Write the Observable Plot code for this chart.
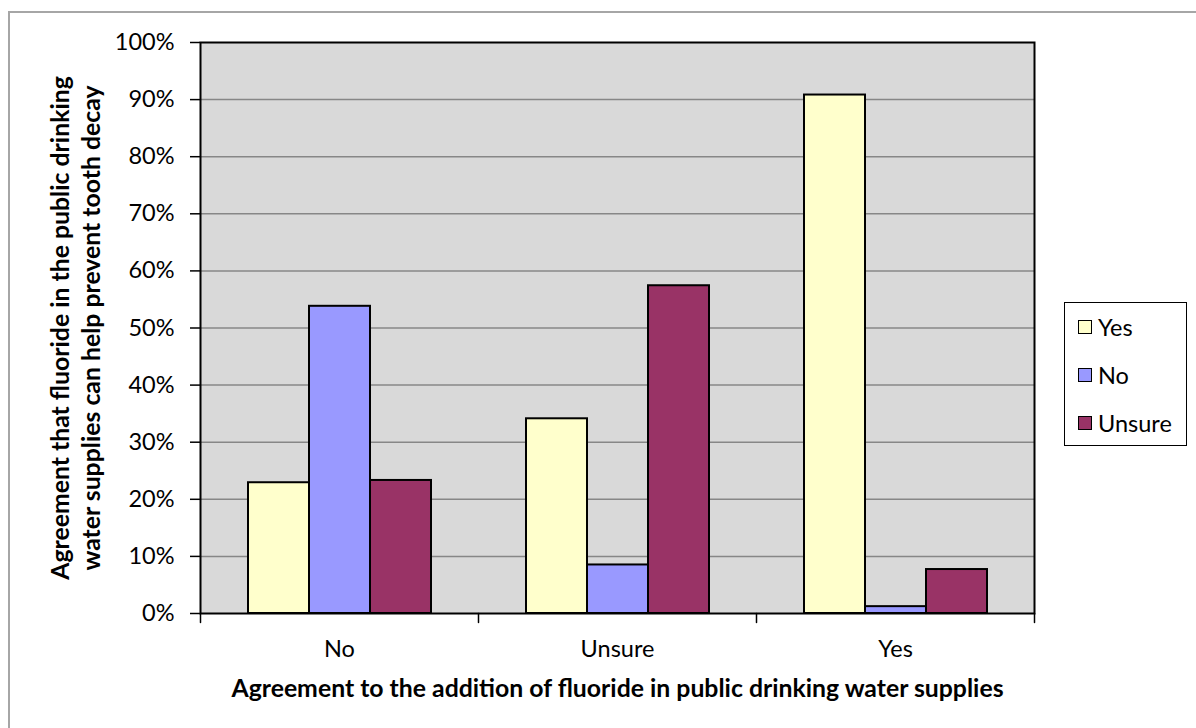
<!DOCTYPE html>
<html>
<head>
<meta charset="utf-8">
<script src="https://cdn.jsdelivr.net/npm/d3@7"></script>
<script src="https://cdn.jsdelivr.net/npm/@observablehq/plot@0.6"></script>
<style>
  html, body { margin: 0; padding: 0; background: #fff; overflow: hidden; }
  #wrap { position: relative; width: 1196px; height: 728px; overflow: hidden; font-family: Lato, sans-serif; }
  #border { position: absolute; left: 8px; top: 11px; width: 1400px; height: 900px; border: 2px solid #a6a6a6; }
  #chart { position: absolute; left: 0; top: 0; }
  #legend { position: absolute; left: 1064px; top: 302px; width: 123px; height: 144px; box-sizing: border-box;
            border: 1.5px solid #000; background: #fff; }
  .item { position: absolute; left: 13px; height: 28px; display: flex; align-items: center; font-size: 23.5px; color: #000; }
  .swatch { width: 12px; height: 12px; border: 1.5px solid #000; margin-right: 6px; }
</style>
</head>
<body>
<div id="wrap">
  <div id="border"></div>
  <div id="chart"></div>
  <div id="legend"></div>
</div>
<script>
// Answer to "does fluoride in drinking water help prevent tooth decay?",
// split by the respondent's view on adding fluoride to public supplies.
const groups = ["No", "Unsure", "Yes"];
const series = ["Yes", "No", "Unsure"];
const colors = ["#FFFFCC", "#9999FF", "#993366"];
const valuesYes = [0.229, 0.341, 0.908];
const valuesNo = [0.538, 0.085, 0.012];
const valuesUnsure = [0.233, 0.574, 0.077];
const yTicks = [0, 0.1, 0.2, 0.3, 0.4, 0.5, 0.6, 0.7, 0.8, 0.9, 1];
const xTitle = "Agreement to the addition of fluoride in public drinking water supplies";
const yTitle = "Agreement that fluoride in the public drinking\nwater supplies can help prevent tooth decay";

const seriesValues = [valuesYes, valuesNo, valuesUnsure];
const rows = groups.flatMap((g, gi) =>
  series.map((s, si) => ({group: g, series: s, value: seriesValues[si][gi]}))
);

// short downward stroke used for the category boundary ticks
const tickShape = {
  draw(context, l) { context.moveTo(0, 0); context.lineTo(0, -l); }
};

const chart = Plot.plot({
  width: 1196,
  height: 728,
  marginLeft: 200,
  marginRight: 162,
  marginTop: 42,
  marginBottom: 115,
  style: {fontFamily: "Lato, sans-serif", fontSize: "23.5px", color: "#000", background: "transparent", overflow: "visible"},
  fx: {domain: groups, padding: 0},
  x: {domain: series, paddingInner: 0, paddingOuter: 0.75, axis: null},
  y: {domain: [0, 1]},
  color: {domain: series, range: colors},
  marks: [
    Plot.frame({facet: "super", fill: "#d9d9d9"}),
    Plot.gridY(yTicks.slice(1, -1), {stroke: "#878787", strokeOpacity: 1, strokeWidth: 1.5}),
    Plot.barY(rows, {fx: "group", x: "series", y: "value", fill: "series", stroke: "#000", strokeWidth: 2}),
    Plot.frame({facet: "super", stroke: "#000", strokeWidth: 2}),
    Plot.axisY({ticks: yTicks, tickFormat: d3.format(".0%"), tickSize: 10, tickPadding: 16, label: null, strokeWidth: 1.5}),
    Plot.axisFx({anchor: "bottom", tickSize: 0, tickPadding: 27, label: null}),
    Plot.vector(groups, {fx: (d) => d, frameAnchor: "bottom-left", length: 9, rotate: 180, anchor: "start",
      shape: tickShape, stroke: "#000", strokeWidth: 1.5}),
    Plot.vector([groups[groups.length - 1]], {facet: "super", frameAnchor: "bottom-right", length: 9, rotate: 180,
      anchor: "start", shape: tickShape, stroke: "#000", strokeWidth: 1.5}),
    Plot.text([yTitle], {facet: "super", frameAnchor: "left", dx: -126, rotate: -90, textAnchor: "middle",
      fontWeight: "bold", fontSize: 24.8, lineHeight: 1.25}),
    Plot.text([xTitle], {facet: "super", frameAnchor: "bottom", dy: 83, textAnchor: "middle",
      fontWeight: "bold", fontSize: 24.8})
  ]
});
document.getElementById("chart").appendChild(chart);

// legend box on the right
const legend = document.getElementById("legend");
const rowTops = [10, 58, 106];
series.forEach((s, i) => {
  const item = document.createElement("div");
  item.className = "item";
  item.style.top = rowTops[i] + "px";
  const sw = document.createElement("span");
  sw.className = "swatch";
  sw.style.background = colors[i];
  const label = document.createElement("span");
  label.textContent = s;
  item.appendChild(sw);
  item.appendChild(label);
  legend.appendChild(item);
});
</script>
</body>
</html>
